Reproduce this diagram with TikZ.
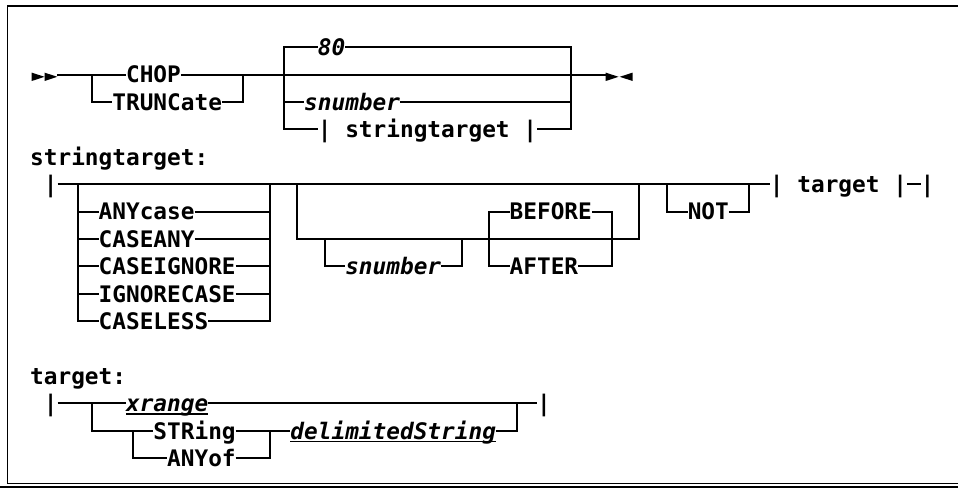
\documentclass[tikz,border=0pt]{standalone}
\usepackage{fontspec}
\setmonofont{DejaVu Sans Mono}
\begin{document}
\begin{tikzpicture}[x=0.75pt,y=-0.75pt,
  ln/.style={line width=1.5pt},
  frm/.style={line width=1.4pt},
  kw/.style={font=\ttfamily\bfseries\fontsize{17.07pt}{20pt}\selectfont, inner sep=0pt, outer sep=0pt, text height=15pt, text depth=2.6pt, anchor=west},
  var/.style={kw, font=\ttfamily\bfseries\itshape\fontsize{17.07pt}{20pt}\selectfont},
  ul/.style={line width=1.2pt},
  tri/.style={fill=black, draw=none}
]
\useasboundingbox (0,0) rectangle (958,487);
% frame
\draw[frm] (958,6) -- (7.5,6) -- (7.5,483.5) -- (958,483.5);
\draw[frm] (0,486.6) -- (958,486.6);

% ================= diagram 1 =================
\node[kw]  (chop)  at (126.05,74.6) {CHOP};
\node[kw]  (trunc) at (112.35,102)  {TRUNCate};
\node[var] (d80)   at (317.85,47.2) {80};
\node[var] (sn1)   at (304.15,102)  {snumber};
\node[kw]  (st)    at (317.85,129.4) {| stringtarget |};
\coordinate (s0) at (57.3,74.6);
\coordinate (e1) at (605.7,74.6);
\coordinate (a1) at (91.8,74.6);
\coordinate (a2) at (91.8,102);
\coordinate (b1) at (242.5,74.6);
\coordinate (b2) at (242.5,102);
\coordinate (c0) at (283.6,47.2);
\coordinate (c2) at (283.6,102);
\coordinate (c3) at (283.6,129.4);
\coordinate (f0) at (571.3,47.2);
\coordinate (f2) at (571.3,102);
\coordinate (f3) at (571.3,129.4);
\fill[tri] (31.7,72.6) -- (44.5,76.8) -- (31.7,81) -- cycle;
\fill[tri] (44.5,72.6) -- (57.3,76.8) -- (44.5,81) -- cycle;
\fill[tri] (605.7,72.6) -- (618.5,76.8) -- (605.7,81) -- cycle;
\fill[tri] (632.7,72.6) -- (619.7,76.8) -- (632.7,81) -- cycle;
\draw[ln] (s0) -- (chop.west);
\draw[ln] (chop.east) -- (e1);
\draw[ln] (a1) -- (a2) -- (trunc.west);
\draw[ln] (trunc.east) -- (b2) -- (b1);
\draw[ln] (d80.west) -- (c0) -- (c3) -- (st.west);
\draw[ln] (d80.east) -- (f0) -- (f3) -- (st.east);
\draw[ln] (c2) -- (sn1.west);
\draw[ln] (sn1.east) -- (f2);

% ================= diagram 2 =================
\node[kw] (lbl2) at (30.15,156.8) {stringtarget:};
\node[kw] (bar2) at (43.85,184.2) {|};
\node[kw] (anycase)    at (98.65,211.6) {ANYcase};
\node[kw] (caseany)    at (98.65,239)   {CASEANY};
\node[kw] (caseignore) at (98.65,266.4) {CASEIGNORE};
\node[kw] (ignorecase) at (98.65,293.8) {IGNORECASE};
\node[kw] (caseless)   at (98.65,321.2) {CASELESS};
\node[var] (sn2)   at (345.25,266.4) {snumber};
\node[kw] (before) at (509.65,211.6) {BEFORE};
\node[kw] (after)  at (509.65,266.4) {AFTER};
\node[kw] (not)    at (687.75,211.6) {NOT};
\node[kw] (tgt)    at (769.95,184.2) {| target |};
\node[kw] (bar2e)  at (920.65,184.2) {|};
\draw[ln] (bar2.east) -- (tgt.west);
\draw[ln] (tgt.east) -- (bar2e.west);
% option bracket
\coordinate (g5) at (78.1,184.2);
\coordinate (g10) at (78.1,321.2);
\coordinate (h5) at (269.9,184.2);
\coordinate (h10) at (269.9,321.2);
\draw[ln] (g5) -- (g10) -- (caseless.west);
\draw[ln] (caseless.east) -- (h10) -- (h5);
\draw[ln] (78.1,211.6) -- (anycase.west);
\draw[ln] (anycase.east) -- (269.9,211.6);
\draw[ln] (78.1,239) -- (caseany.west);
\draw[ln] (caseany.east) -- (269.9,239);
\draw[ln] (78.1,266.4) -- (caseignore.west);
\draw[ln] (caseignore.east) -- (269.9,266.4);
\draw[ln] (78.1,293.8) -- (ignorecase.west);
\draw[ln] (ignorecase.east) -- (269.9,293.8);
% snumber / BEFORE / AFTER group
\coordinate (i5) at (297.3,184.2);
\coordinate (i7) at (297.3,239);
\coordinate (j5) at (639.2,184.2);
\coordinate (j7) at (639.2,239);
\draw[ln] (i5) -- (i7) -- (j7) -- (j5);
\coordinate (k7) at (324.7,239);
\coordinate (k8) at (324.7,266.4);
\coordinate (l7) at (461.7,239);
\coordinate (l8) at (461.7,266.4);
\draw[ln] (k7) -- (k8) -- (sn2.west);
\draw[ln] (sn2.east) -- (l8) -- (l7);
\coordinate (m6) at (489.1,211.6);
\coordinate (m8) at (489.1,266.4);
\coordinate (n6) at (612.4,211.6);
\coordinate (n8) at (612.4,266.4);
\draw[ln] (before.west) -- (m6) -- (m8) -- (after.west);
\draw[ln] (before.east) -- (n6) -- (n8) -- (after.east);
% NOT
\coordinate (o5) at (667.2,184.2);
\coordinate (o6) at (667.2,211.6);
\coordinate (p5) at (749.4,184.2);
\coordinate (p6) at (749.4,211.6);
\draw[ln] (o5) -- (o6) -- (not.west);
\draw[ln] (not.east) -- (p6) -- (p5);

% ================= diagram 3 =================
\node[kw]  (lbl3)   at (30.15,376)   {target:};
\node[kw]  (bar3)   at (43.85,403.4) {|};
\node[var] (xrange) at (126.05,403.4) {xrange};
\node[kw]  (string) at (153.45,430.8) {STRing};
\node[kw]  (anyof)  at (167.15,458.2) {ANYof};
\node[var] (delim)  at (290.45,430.8) {delimitedString};
\node[kw]  (bar3e)  at (537.05,403.4) {|};
\draw[ul] ([yshift=-1.9pt]xrange.base west) -- ([yshift=-1.9pt]xrange.base east);
\draw[ul] ([yshift=-1.9pt]delim.base west) -- ([yshift=-1.9pt]delim.base east);
\draw[ln] (bar3.east) -- (xrange.west);
\draw[ln] (xrange.east) -- (bar3e.west);
\coordinate (q13) at (91.8,403.4);
\coordinate (q14) at (91.8,430.8);
\coordinate (r13) at (516.5,403.4);
\coordinate (r14) at (516.5,430.8);
\draw[ln] (q13) -- (q14) -- (string.west);
\draw[ln] (string.east) -- (delim.west);
\draw[ln] (delim.east) -- (r14) -- (r13);
\coordinate (t14) at (132.9,430.8);
\coordinate (t15) at (132.9,458.2);
\coordinate (u14) at (269.9,430.8);
\coordinate (u15) at (269.9,458.2);
\draw[ln] (t14) -- (t15) -- (anyof.west);
\draw[ln] (anyof.east) -- (u15) -- (u14);
\end{tikzpicture}
\end{document}
